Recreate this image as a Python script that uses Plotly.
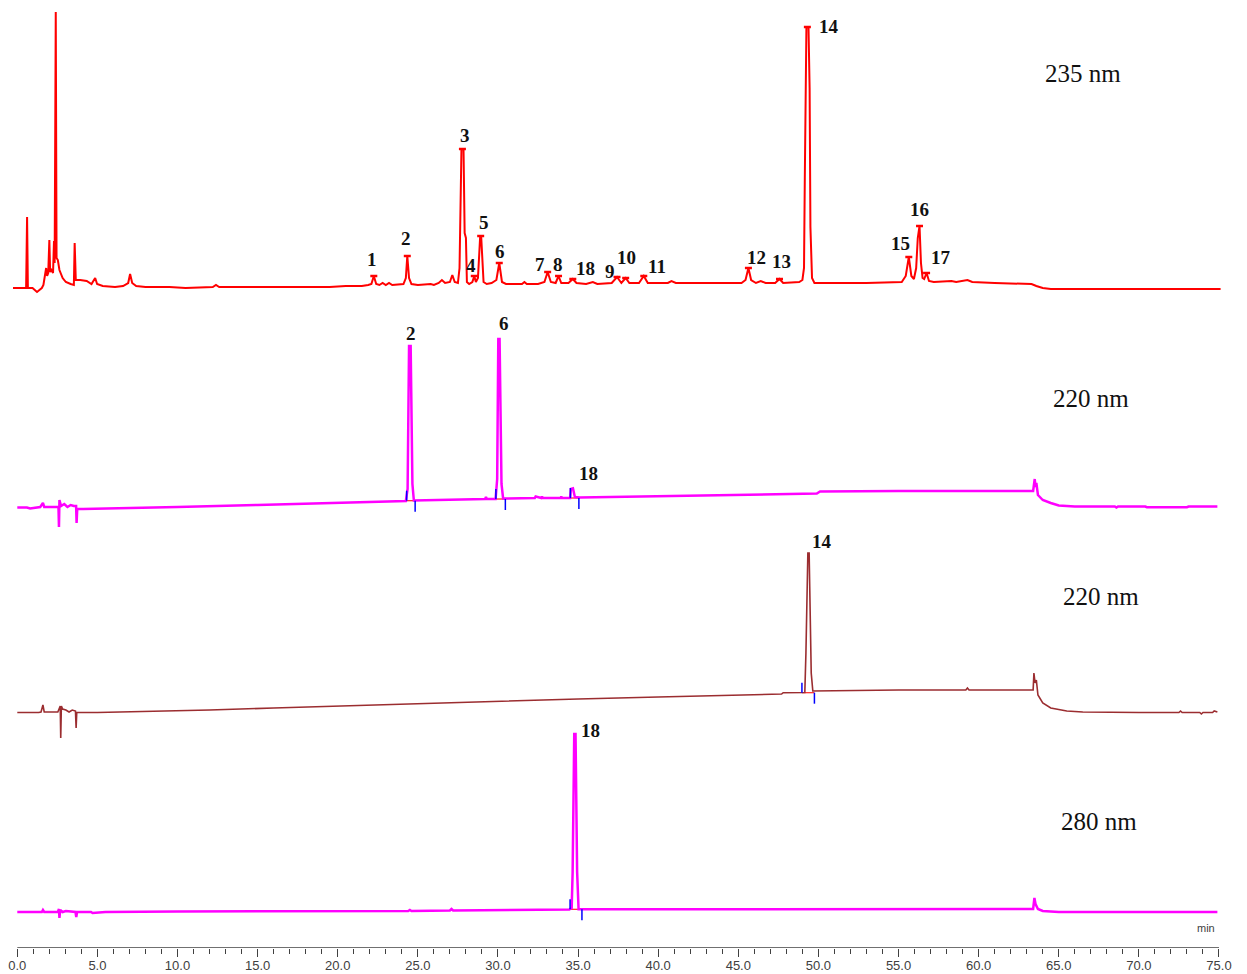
import numpy as np
import plotly.graph_objects as go

# ---------------------------------------------------------------------------
# Chromatogram vertices: (retention time in min, detector response)
# ---------------------------------------------------------------------------

# Sample extract, 235 nm
trace_235 = [
    (-0.27, 0), (0.55, 0), (0.61, 71), (0.66, 0), (0.95, 0), (1.13, -3), (1.23, -4),
    (1.38, -2), (1.53, 0), (1.63, 3), (1.73, 12), (1.8, 20), (1.86, 12), (1.93, 15),
    (2.0, 48), (2.05, 16), (2.13, 18), (2.23, 15), (2.29, 47), (2.33, 25), (2.4, 276),
    (2.45, 30), (2.53, 28), (2.63, 18), (2.83, 10), (3.03, 6), (3.33, 4), (3.53, 3),
    (3.58, 45), (3.65, 8), (3.93, 8), (4.33, 7), (4.63, 4), (4.86, 10), (4.98, 4),
    (5.33, 2), (6.1, 1), (6.6, 2), (6.92, 5), (7.04, 14), (7.17, 5), (7.42, 2),
    (8.0, 1), (9.5, 1), (10.5, 0), (12.2, 1), (12.4, 3), (12.6, 1), (14.0, 1),
    (16.0, 1), (18.0, 1), (19.5, 1), (20.5, 2), (21.5, 2), (21.9, 3), (22.1, 4),
    (22.25, 12), (22.4, 4), (22.6, 3), (22.8, 5), (23.0, 3), (23.2, 5), (23.4, 3),
    (24.1, 4), (24.25, 10), (24.34, 32), (24.45, 10), (24.6, 4), (25.0, 3),
    (25.8, 4), (26.0, 3), (26.3, 5), (26.5, 8), (26.7, 5), (27.0, 6), (27.15, 13),
    (27.3, 6), (27.5, 5), (27.6, 20), (27.66, 70), (27.72, 139), (27.85, 139),
    (27.92, 55), (28.0, 50), (28.06, 6), (28.2, 4), (28.4, 6), (28.52, 12),
    (28.62, 6), (28.75, 10), (28.89, 52), (28.95, 52), (29.02, 33), (29.1, 6),
    (29.3, 4), (29.6, 5), (29.9, 8), (30.08, 25), (30.25, 6), (30.5, 4), (31.0, 4),
    (31.5, 4), (31.65, 6), (31.8, 4), (32.5, 4), (32.9, 6), (33.1, 16), (33.3, 6),
    (33.6, 5), (33.78, 12), (33.95, 5), (34.4, 5), (34.67, 9), (34.9, 5), (35.5, 4),
    (35.92, 6), (36.2, 4), (37.1, 5), (37.43, 11), (37.7, 5), (37.97, 10),
    (38.2, 5), (38.8, 5), (39.1, 12), (39.35, 5), (40.6, 5), (40.83, 7), (41.1, 5),
    (43.0, 5), (45.2, 5), (45.45, 8), (45.63, 20), (45.8, 8), (46.1, 5), (46.4, 7),
    (46.7, 5), (47.3, 5), (47.57, 9), (47.8, 5), (48.8, 6), (49.0, 8), (49.1, 20),
    (49.15, 110), (49.25, 261), (49.38, 261), (49.45, 200), (49.5, 61), (49.6, 10),
    (49.75, 5), (51.0, 5), (53.0, 5), (55.2, 6), (55.45, 12), (55.64, 31),
    (55.8, 12), (55.96, 9), (56.1, 20), (56.2, 50), (56.31, 62), (56.4, 25),
    (56.5, 10), (56.6, 9), (56.75, 15), (56.9, 7), (57.2, 6), (58.3, 7), (58.6, 6),
    (59.3, 8), (59.6, 6), (61.0, 5), (63.3, 4), (63.6, 2), (64.0, 0), (64.5, -1),
    (66.0, -1), (70.0, -1), (75.1, -1),
]

# Mixed reference standards, 220 nm
trace_220a = [
    (0.0, 1.5), (0.6, 1.5), (0.8, 0.5), (1.1, 1.5), (1.43, 2), (1.6, 6), (1.68, 2),
    (2.43, 2), (2.57, 2), (2.6, -18), (2.63, 9), (2.73, 3), (2.93, 5), (3.13, 2),
    (3.33, 4), (3.53, 3), (3.67, 3), (3.7, -14), (3.74, 0), (4.1, 0), (6.0, 0.5),
    (8.0, 1), (10.0, 2), (15.0, 4), (20.0, 6), (24.25, 8), (24.36, 20),
    (24.45, 163), (24.55, 163), (24.66, 25), (24.75, 8.5), (26.0, 9), (29.2, 10),
    (29.25, 12), (29.3, 10), (29.85, 10), (29.95, 30), (30.02, 170), (30.1, 170),
    (30.22, 25), (30.32, 10.5), (32.3, 11), (32.35, 12.5), (32.7, 11),
    (32.75, 12.5), (32.8, 11), (33.9, 11), (33.95, 12.5), (34.0, 11), (34.5, 11),
    (34.55, 20), (34.68, 20.7), (34.8, 12), (35.1, 11.5), (40.0, 13), (45.0, 14.5),
    (49.9, 15.5), (50.1, 17.5), (55.0, 18), (63.4, 18), (63.5, 30), (63.55, 22),
    (63.6, 26), (63.7, 14), (64.0, 9), (64.5, 6), (65.0, 3.5), (66.0, 2.5),
    (68.5, 2.5), (68.6, 1.5), (68.7, 2.5), (70.4, 2.5), (70.5, 1.8), (73.0, 1.8),
    (73.1, 2.5), (74.9, 2.5),
]

# Reference standard of peak 14, 220 nm
trace_220b = [
    (0.0, 0.5), (0.9, 0.5), (1.13, 0), (1.33, 0.5), (1.48, 1), (1.6, 8), (1.68, 1),
    (2.53, 1), (2.68, 7), (2.71, -25), (2.75, 7), (2.83, 4), (3.03, 3), (3.23, 1),
    (3.43, 3), (3.63, 2), (3.67, -15), (3.71, 0.5), (5.0, 0.5), (8.0, 1.5),
    (12.0, 3), (16.0, 5), (20.0, 7), (25.0, 9.5), (30.0, 12), (35.0, 14),
    (40.0, 16), (45.0, 18), (47.7, 19), (47.8, 20.3), (49.15, 20.5), (49.22, 60),
    (49.34, 160), (49.42, 160), (49.55, 40), (49.65, 22), (52.0, 22.5), (55.0, 23),
    (59.2, 23), (59.3, 25), (59.4, 23), (63.4, 23), (63.45, 40), (63.52, 30),
    (63.6, 33), (63.7, 18), (64.0, 10), (64.5, 5), (65.5, 2), (66.5, 1),
    (70.0, 0.5), (72.5, 0.5), (72.6, 2), (72.7, 0.5), (73.8, 0.5), (73.9, -1),
    (74.0, 0.5), (74.6, 0.5), (74.7, 2), (74.9, 1),
]

# Reference standard of peak 18, 280 nm
trace_280 = [
    (0.0, 0), (1.53, 0), (1.6, 2), (1.68, 0), (2.53, 0), (2.6, 3), (2.63, -6),
    (2.68, 2), (2.83, 0), (3.03, 1), (3.63, 0), (3.68, -5), (3.73, 0), (4.6, 0),
    (4.7, -1), (5.5, 0), (10.0, 0.5), (20.0, 1), (24.4, 1), (24.5, 2), (24.6, 1),
    (27.0, 1.5), (27.1, 3), (27.2, 1.5), (34.45, 2.5), (34.6, 4), (34.66, 40),
    (34.76, 178), (34.84, 178), (34.94, 40), (35.03, 2.7), (40.0, 2.8),
    (50.0, 3), (63.4, 3), (63.48, 14), (63.55, 8), (63.7, 3), (64.0, 1),
    (65.0, 0), (74.9, 0),
]

# Identified peaks: (label, retention time, apex response)
peaks_235 = [
    ("1", 22.25, 12), ("2", 24.34, 32), ("3", 27.78, 139), ("4", 28.52, 12),
    ("5", 28.92, 52), ("6", 30.08, 25), ("7", 33.10, 16), ("8", 33.78, 12),
    ("18", 34.67, 9), ("9", 37.43, 11), ("10", 37.97, 10), ("11", 39.10, 12),
    ("12", 45.63, 20), ("13", 47.57, 9), ("14", 49.31, 261), ("15", 55.64, 31),
    ("16", 56.31, 62), ("17", 56.75, 15),
]
peaks_220a = [("2", 24.50, 163), ("6", 30.06, 170), ("18", 34.68, 20.7)]
peaks_220b = [("14", 49.38, 160)]
peaks_280 = [("18", 34.80, 178)]

# Integration windows: (start min, end min, baseline response)
integ_220a = [(24.30, 24.83, 8.3), (29.87, 30.46, 10.0), (34.52, 35.05, 11.0)]
integ_220b = [(48.97, 49.75, 20.3)]
integ_280 = [(34.50, 35.24, 2.7)]

wavelengths = ["235 nm", "220 nm", "220 nm", "280 nm"]

x_major = [0, 5, 10, 15, 20, 25, 30, 35, 40, 45, 50, 55, 60, 65, 70, 75]
x_minor = [v for v in range(1, 75) if v % 5]

# ---------------------------------------------------------------------------
# Layout of the stacked chromatograms
# ---------------------------------------------------------------------------
W, H = 1247, 974
PLOT_H = 948                       # plot area height in px (y unit = 1 px)
X0, X1 = -1.080, 76.748            # x range so that 0..75 min sits on the axis

panels = [
    dict(data=trace_235, peaks=peaks_235, integ=[], offset=660, color="#ff0000",
         width=2.0, marks=True, wl_xy=(1083, 73),
         shifts=[(-2, 17), (-1, 18), (3, 14), (-3, 11), (3, 14), (1, 12), (-8, 8),
                 (-1, 12), (13, 11), (-7, 6), (1, 21), (13, 10), (8, 11), (2, 18),
                 (22, 1), (-8, 14), (0, 17), (14, 16)]),
    dict(data=trace_220a, peaks=peaks_220a, integ=integ_220a, offset=439,
         color="#ff00ff", width=2.5, marks=False, wl_xy=(1091, 398),
         shifts=[(1, 13), (5, 16), (16, 15)]),
    dict(data=trace_220b, peaks=peaks_220b, integ=integ_220b, offset=235,
         color="#9b2d30", width=1.6, marks=False, wl_xy=(1101, 596),
         shifts=[(13, 12)]),
    dict(data=trace_280, peaks=peaks_280, integ=integ_280, offset=36,
         color="#ff00ff", width=2.5, marks=False, wl_xy=(1099, 821),
         shifts=[(16, 4)]),
]

fig = go.Figure()
annotations = []
label_font = dict(family="Liberation Serif, Times New Roman, serif", size=19,
                  color="#111111")

for p, wl in zip(panels, wavelengths):
    t = np.array([v[0] for v in p["data"]])
    s = np.array([v[1] for v in p["data"]], dtype=float)
    off = p["offset"]

    # integration baseline segments and start/end ticks
    for (ts, te, base) in p["integ"]:
        b = base + off
        fig.add_trace(go.Scatter(x=[ts, te], y=[b, b], mode="lines",
                                 line=dict(color="#ff2020", width=1.2),
                                 hoverinfo="skip", showlegend=False))
    fig.add_trace(go.Scatter(x=t, y=s + off, mode="lines",
                             line=dict(color=p["color"], width=p["width"]),
                             hoverinfo="skip", showlegend=False))
    for (ts, te, base) in p["integ"]:
        b = base + off
        fig.add_trace(go.Scatter(x=[ts, ts, None, te, te],
                                 y=[b, b + 10, None, b, b - 11], mode="lines",
                                 line=dict(color="#0000ff", width=1.5),
                                 hoverinfo="skip", showlegend=False))

    if p["marks"]:
        fig.add_trace(go.Scatter(
            x=[pk[1] for pk in p["peaks"]],
            y=[pk[2] + off for pk in p["peaks"]],
            mode="markers",
            marker=dict(symbol="line-ew", size=5,
                        line=dict(color="#ff0000", width=2.5)),
            hoverinfo="skip", showlegend=False))

    for (name, rt, h), (dx, dy) in zip(p["peaks"], p["shifts"]):
        annotations.append(dict(x=rt, y=h + off, xref="x", yref="y", text=f"<b>{name}</b>",
                                showarrow=False, xshift=dx, yshift=dy,
                                font=label_font, xanchor="center", yanchor="middle"))

    px, py = p["wl_xy"]
    annotations.append(dict(x=px / W, y=(PLOT_H - py) / PLOT_H, xref="paper", yref="paper",
                            text=wl, showarrow=False, xanchor="center", yanchor="middle",
                            font=dict(family="Liberation Serif, Times New Roman, serif",
                                      size=25, color="#111111")))

# time axis label
annotations.append(dict(x=1206 / W, y=(PLOT_H - 928) / PLOT_H, xref="paper", yref="paper",
                        text="min", showarrow=False, xanchor="center", yanchor="middle",
                        font=dict(family="Liberation Sans, Arial, sans-serif", size=11,
                                  color="#404040")))

fig.update_layout(
    width=W, height=H,
    margin=dict(l=0, r=0, t=0, b=H - PLOT_H),
    paper_bgcolor="white", plot_bgcolor="white",
    showlegend=False,
    annotations=annotations,
    shapes=[dict(type="line", xref="x", yref="y", x0=0, x1=75, y0=0, y1=0,
                 line=dict(color="#404040", width=1.5))],
    xaxis=dict(range=[X0, X1], showgrid=False, zeroline=False, showline=False,
               tickmode="array", tickvals=x_major,
               ticktext=[f"{v:.1f}" for v in x_major],
               ticks="outside", ticklen=8, tickwidth=1.3, tickcolor="#404040",
               ticklabelstandoff=-3,
               tickfont=dict(family="Liberation Sans, Arial, sans-serif", size=13,
                             color="#404040"),
               minor=dict(tickmode="array", tickvals=x_minor, ticks="outside",
                          ticklen=5, tickwidth=1.2, tickcolor="#404040")),
    yaxis=dict(range=[0, PLOT_H], visible=False, showgrid=False, zeroline=False),
)

fig.write_html("out.html")
